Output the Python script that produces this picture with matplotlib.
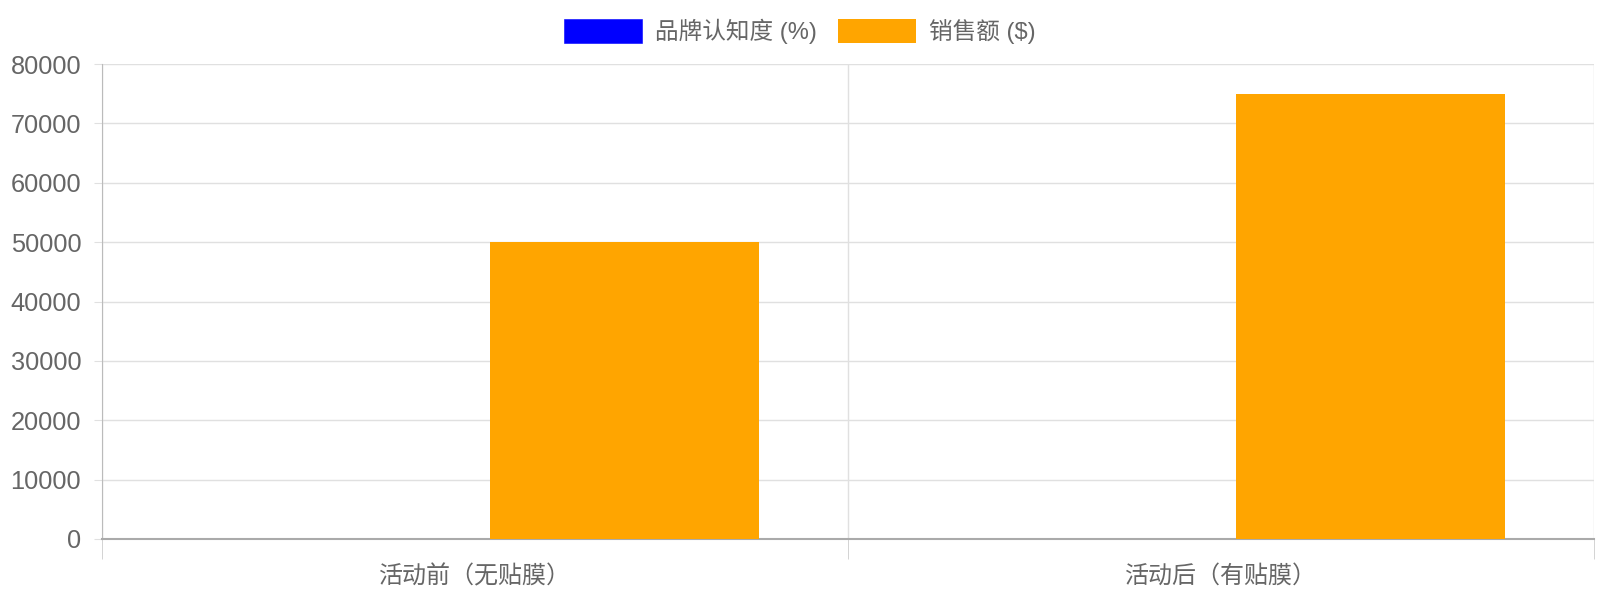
import numpy as np
import matplotlib.pyplot as plt

plt.rcParams['font.family'] = ['Liberation Sans', 'Noto Sans CJK SC', 'DejaVu Sans']

categories = ["活动前（无贴膜）", "活动后（有贴膜）"]
awareness = [30, 70]
sales = [50000, 75000]
series_names = ["品牌认知度 (%)", "销售额 ($)"]
yticks = [0, 10000, 20000, 30000, 40000, 50000, 60000, 70000, 80000]

fig = plt.figure(figsize=(16, 6), dpi=100)
ax = fig.add_axes([0.0638, 0.1017, 0.9325, 0.7916])

x = np.arange(len(categories))
w = 0.36
# tiny values: thin edge keeps them visible as a faint line, like the original
ax.bar(x - 0.2, awareness, width=w, color="blue", edgecolor="blue", linewidth=0.4,
       label=series_names[0], zorder=3)
ax.bar(x + 0.2, sales, width=w, color="orange", label=series_names[1], zorder=3)

ax.set_xlim(-0.5, len(categories) - 0.5)
ax.set_ylim(0, 80000)
ax.set_yticks(yticks)
ax.set_yticklabels([str(v) for v in yticks])
ax.set_xticks(x)
ax.set_xticklabels(categories)
ax.set_xticks(np.arange(len(categories) + 1) - 0.5, minor=True)

ax.grid(axis="y", color="#e0e0e0", linewidth=1, zorder=0)
ax.grid(axis="x", which="minor", color="#e0e0e0", linewidth=1, zorder=0)
ax.tick_params(axis="y", length=6, color="#e0e0e0", labelsize=18.3, labelcolor="#666666", pad=9)
ax.tick_params(axis="x", which="major", length=0, labelsize=17.3, labelcolor="#666666", pad=18.5)
ax.tick_params(axis="x", which="minor", length=14.5, color="#cccccc")

for s in ["top", "right"]:
    ax.spines[s].set_visible(False)
ax.spines["left"].set_color("#bbbbbb")
ax.spines["bottom"].set_color("#aaaaaa")
ax.spines["bottom"].set_linewidth(1.5)

fig.legend(loc="upper center", bbox_to_anchor=(0.5, 1.004), ncol=2, frameon=False,
           fontsize=17, labelcolor="#666666", handlelength=3.3, handleheight=1.15,
           handletextpad=0.55, columnspacing=0.9)

fig.savefig("out.png")
